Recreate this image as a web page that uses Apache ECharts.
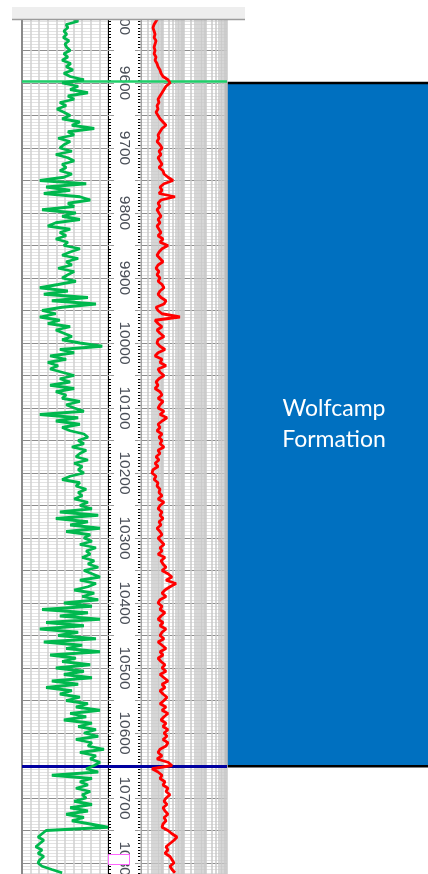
<!DOCTYPE html>
<html>
<head>
<meta charset="utf-8">
<script src="https://cdn.jsdelivr.net/npm/echarts@6/dist/echarts.min.js"></script>
<style>
  html, body { margin: 0; padding: 0; background: #ffffff; }
  #chart { width: 428px; height: 874px; }
</style>
</head>
<body>
<div id="chart"></div>
<script>
// Well log: gamma ray (linear track), depth track, resistivity (log track)
const DEPTH_START = 9500;   // ft, first sample
const DEPTH_STEP = 5;       // ft between samples
const DEPTH_MIN = 9500;
const DEPTH_MAX = 10820;

// Gamma ray, API (0-150 track)
const gammaRay = [
  87, 98, 77, 80, 73, 78, 72, 82, 75, 78,
  84, 73, 80, 70, 85, 77, 89, 73, 84, 108,
  70, 98, 84, 115, 80, 91, 66, 77, 61, 73,
  84, 70, 101, 87, 126, 80, 91, 63, 84, 73,
  66, 87, 59, 80, 91, 70, 77, 66, 87, 73,
  31, 112, 42, 84, 38, 101, 119, 80, 91, 35,
  94, 70, 101, 59, 45, 84, 66, 77, 59, 80,
  73, 101, 84, 70, 98, 77, 87, 63, 91, 80,
  70, 94, 63, 31, 80, 38, 115, 52, 129, 70,
  35, 59, 31, 66, 45, 84, 59, 73, 87, 70,
  101, 140, 66, 91, 49, 77, 45, 63, 49, 70,
  91, 66, 84, 49, 91, 59, 77, 70, 101, 77,
  91, 108, 31, 98, 59, 101, 70, 84, 108, 115,
  98, 108, 87, 112, 101, 94, 115, 91, 105, 98,
  108, 84, 70, 101, 94, 112, 98, 105, 91, 115,
  101, 122, 66, 133, 59, 115, 84, 136, 77, 119,
  108, 122, 101, 129, 112, 119, 105, 126, 115, 133,
  108, 122, 136, 101, 129, 115, 91, 126, 105, 133,
  73, 122, 35, 115, 66, 136, 42, 108, 31, 98,
  63, 129, 38, 105, 77, 136, 49, 94, 70, 119,
  59, 108, 73, 122, 52, 98, 42, 87, 66, 101,
  77, 115, 94, 136, 84, 112, 73, 122, 98, 129,
  108, 133, 94, 122, 115, 143, 101, 129, 119, 136,
  126, 112, 133, 52, 122, 101, 115, 94, 119, 105,
  112, 91, 122, 84, 115, 77, 108, 87, 119, 150,
  42, 35, 28, 38, 31, 24, 35, 28, 38, 31,
  28, 35, 52, 70
];

// Deep resistivity, ohm-m (2-20000 log track)
const resistivity = [
  12.4, 10.0, 8.1, 7.2, 8.1, 9.0, 8.1, 10.0, 9.0, 8.1,
  9.0, 8.1, 10.0, 9.0, 11.1, 12.4, 15.3, 17.0, 21.1, 36.0,
  44.6, 29.1, 23.5, 19.0, 15.3, 12.4, 13.7, 11.1, 12.4, 10.0,
  12.4, 15.3, 21.1, 29.1, 19.0, 15.3, 12.4, 13.7, 11.1, 15.3,
  19.0, 13.7, 17.0, 12.4, 15.3, 19.0, 13.7, 21.1, 23.5, 36.0,
  61.6, 23.5, 15.3, 19.0, 13.7, 76.3, 17.0, 12.4, 15.3, 11.1,
  13.7, 17.0, 12.4, 15.3, 11.1, 13.7, 17.0, 12.4, 21.1, 15.3,
  36.0, 19.0, 13.7, 11.1, 15.3, 21.1, 12.4, 10.0, 13.7, 11.1,
  15.3, 12.4, 19.0, 23.5, 15.3, 12.4, 17.0, 29.1, 23.5, 10.0,
  12.4, 19.0, 130, 9.0, 12.4, 19.0, 11.1, 15.3, 23.5, 12.4,
  11.1, 15.3, 26.1, 12.4, 9.0, 19.0, 15.3, 29.1, 12.4, 15.3,
  23.5, 13.7, 10.0, 12.4, 9.0, 15.3, 19.0, 12.4, 21.1, 15.3,
  12.4, 23.5, 15.3, 32.4, 19.0, 12.4, 15.3, 11.1, 19.0, 13.7,
  19.0, 15.3, 23.5, 12.4, 15.3, 10.0, 13.7, 9.0, 12.4, 7.2,
  6.5, 10.0, 8.1, 12.4, 11.1, 15.3, 13.7, 19.0, 12.4, 23.5,
  15.3, 12.4, 19.0, 15.3, 21.1, 13.7, 17.0, 11.1, 15.3, 19.0,
  12.4, 17.0, 23.5, 15.3, 19.0, 12.4, 26.1, 17.0, 21.1, 29.1,
  19.0, 36.0, 55.3, 29.1, 84.9, 44.6, 26.1, 19.0, 29.1, 15.3,
  12.4, 19.0, 15.3, 26.1, 17.0, 12.4, 21.1, 15.3, 29.1, 19.0,
  15.3, 23.5, 12.4, 19.0, 29.1, 15.3, 21.1, 12.4, 17.0, 26.1,
  19.0, 29.1, 15.3, 23.5, 36.0, 19.0, 26.1, 15.3, 21.1, 32.4,
  23.5, 15.3, 29.1, 19.0, 36.0, 23.5, 17.0, 29.1, 21.1, 36.0,
  23.5, 32.4, 21.1, 36.0, 29.1, 15.3, 12.4, 19.0, 11.1, 36.0,
  55.3, 6.5, 12.4, 19.0, 15.3, 26.1, 21.1, 36.0, 29.1, 44.6,
  29.1, 23.5, 32.4, 21.1, 26.1, 36.0, 23.5, 29.1, 21.1, 19.0,
  36.0, 55.3, 94.5, 68.6, 44.6, 29.1, 36.0, 26.1, 44.6, 55.3,
  68.6, 44.6, 55.3, 76.3
];

// Track scales
const GR_MIN = 0, GR_MAX = 150, GR_STEP = 15;
const RES_MIN = 2, RES_MAX = 20000;
const logGridSteps = [1, 2, 3, 4, 5, 6, 7, 8, 9];

// Formation picks
const formationName = 'Wolfcamp\nFormation';
const formationTop = 9600;
const topPick = 9597;
const basePick = 10651;

const depths = gammaRay.map((_, i) => DEPTH_START + i * DEPTH_STEP);

// Vertical log-grid values across every decade of the resistivity track
const logGridValues = [];
for (let dec = RES_MIN; dec < RES_MAX; dec *= 10) {
  logGridSteps.forEach(m => logGridValues.push(m * dec));
}
logGridValues.push(RES_MAX);

const TOP = 18, HEIGHT = 858;

function depthAxis(gridIndex, extra) {
  return Object.assign({
    type: 'value', gridIndex, min: DEPTH_MIN, max: DEPTH_MAX, inverse: true, interval: 50,
    axisLabel: { show: false }, axisTick: { show: false }, axisLine: { show: false },
    splitLine: { show: false }
  }, extra);
}

const trackLines = {
  splitLine: { show: true, lineStyle: { color: '#8e8e8e', width: 1 } },
  minorTick: { show: false, splitNumber: 10 },
  minorSplitLine: { show: true, lineStyle: { color: '#e2e2e2', width: 1 } }
};

function pickLines(color, width) {
  return {
    silent: true, symbol: 'none', label: { show: false },
    lineStyle: { color, width, type: 'solid' },
    emphasis: { disabled: true }
  };
}

const picks = [
  { yAxis: topPick, lineStyle: { color: '#1fd06a', width: 2.5, type: 'solid' } },
  { yAxis: basePick, lineStyle: { color: '#0000a0', width: 3, type: 'solid' } }
];

const gridBase = { top: TOP, height: HEIGHT, containLabel: false, outerBoundsMode: 'none' };

const chart = echarts.init(document.getElementById('chart'), null, { renderer: 'canvas' });

chart.setOption({
  animation: false,
  backgroundColor: '#ffffff',
  grid: [
    Object.assign({ left: 22, width: 86 }, gridBase),
    Object.assign({ left: 108, width: 33 }, gridBase),
    Object.assign({ left: 141, width: 86 }, gridBase),
    Object.assign({ left: 226, width: 216 }, gridBase)
  ],
  xAxis: [
    { type: 'value', gridIndex: 0, min: GR_MIN, max: GR_MAX, interval: GR_STEP,
      axisLine: { show: false }, axisTick: { show: false }, axisLabel: { show: false },
      splitLine: { show: true, lineStyle: { color: '#d0d0d0', width: 1.5 } } },
    { type: 'value', gridIndex: 1, min: 0, max: 1, show: false },
    { type: 'log', gridIndex: 2, logBase: 10, min: RES_MIN, max: RES_MAX, show: false },
    { type: 'value', gridIndex: 3, min: 0, max: 1, show: false }
  ],
  yAxis: [
    depthAxis(0, Object.assign({
      axisLine: { show: true, lineStyle: { color: '#8a8a8a', width: 2 } }
    }, trackLines)),
    depthAxis(1, {
      position: 'left',
      axisLine: { show: true, lineStyle: { color: '#000000', width: 1 } },
      axisTick: { show: true, inside: true, length: 6, lineStyle: { color: '#9a9a9a', width: 1 } },
      minorTick: { show: true, splitNumber: 10, length: 3, lineStyle: { color: '#000000', width: 1 } },
      axisLabel: {
        show: true, inside: true, rotate: -90, margin: 16,
        align: 'center', verticalAlign: 'middle',
        fontFamily: 'Liberation Sans, Arial, sans-serif', fontSize: 15.5, color: '#4a4f58',
        formatter: v => (v % 100 === 0 ? String(v) : '')
      }
    }),
    depthAxis(1, {
      position: 'right',
      axisLine: { show: true, lineStyle: { color: '#333333', width: 1 } },
      axisTick: { show: true, inside: true, length: 6, lineStyle: { color: '#9a9a9a', width: 1 } },
      minorTick: { show: true, splitNumber: 10, length: 3, lineStyle: { color: '#000000', width: 1 } }
    }),
    depthAxis(2, Object.assign({}, trackLines)),
    depthAxis(3, {})
  ],
  series: [
    {
      name: 'log grid', type: 'line', xAxisIndex: 2, yAxisIndex: 3, data: [], z: 1, silent: true,
      markLine: Object.assign(pickLines('#c8c8c8', 1.5), {
        data: logGridValues.map(v => ({ xAxis: v }))
      })
    },
    {
      name: 'Formation', type: 'line', xAxisIndex: 3, yAxisIndex: 4, data: [], z: 1, silent: true,
      markArea: {
        silent: true,
        itemStyle: { color: '#0070c0', borderColor: '#000000', borderWidth: 2.5 },
        label: {
          show: true, position: 'inside', color: '#ffffff',
          fontFamily: 'Lato, "Noto Sans", sans-serif', fontSize: 23, lineHeight: 31,
          formatter: formationName
        },
        data: [[{ yAxis: formationTop }, { yAxis: basePick }]]
      }
    },
    {
      name: 'GR', type: 'line', xAxisIndex: 0, yAxisIndex: 0, z: 5,
      showSymbol: false, symbol: 'none',
      lineStyle: { color: '#00b84e', width: 2.8 },
      data: depths.map((d, i) => [gammaRay[i], d]),
      markLine: Object.assign(pickLines('#1fd06a', 2.5), { data: picks })
    },
    {
      name: 'depth picks', type: 'line', xAxisIndex: 1, yAxisIndex: 1, data: [], z: 5,
      markLine: Object.assign(pickLines('#1fd06a', 2.5), { data: picks })
    },
    {
      name: 'RES', type: 'line', xAxisIndex: 2, yAxisIndex: 3, z: 5,
      showSymbol: false, symbol: 'none',
      lineStyle: { color: '#ff0000', width: 2.8 },
      data: depths.map((d, i) => [resistivity[i], d]),
      markLine: Object.assign(pickLines('#1fd06a', 2.5), { data: picks })
    }
  ],
  graphic: [
    { type: 'rect', z: 100, shape: { x: 0, y: 0, width: 428, height: 7 }, style: { fill: '#ffffff' } },
    { type: 'rect', z: 100, shape: { x: 12, y: 7, width: 233, height: 12.5 }, style: { fill: '#eeeeee' } },
    { type: 'line', z: 100, shape: { x1: 12, y1: 19.5, x2: 245, y2: 19.5 }, style: { stroke: '#9c9c9c', lineWidth: 1.5 } },
    { type: 'rect', z: 100, shape: { x: 108.5, y: 854.5, width: 21, height: 10 }, style: { fill: '#ffffff', stroke: '#ff66ff', lineWidth: 1 } }
  ]
});
</script>
</body>
</html>
